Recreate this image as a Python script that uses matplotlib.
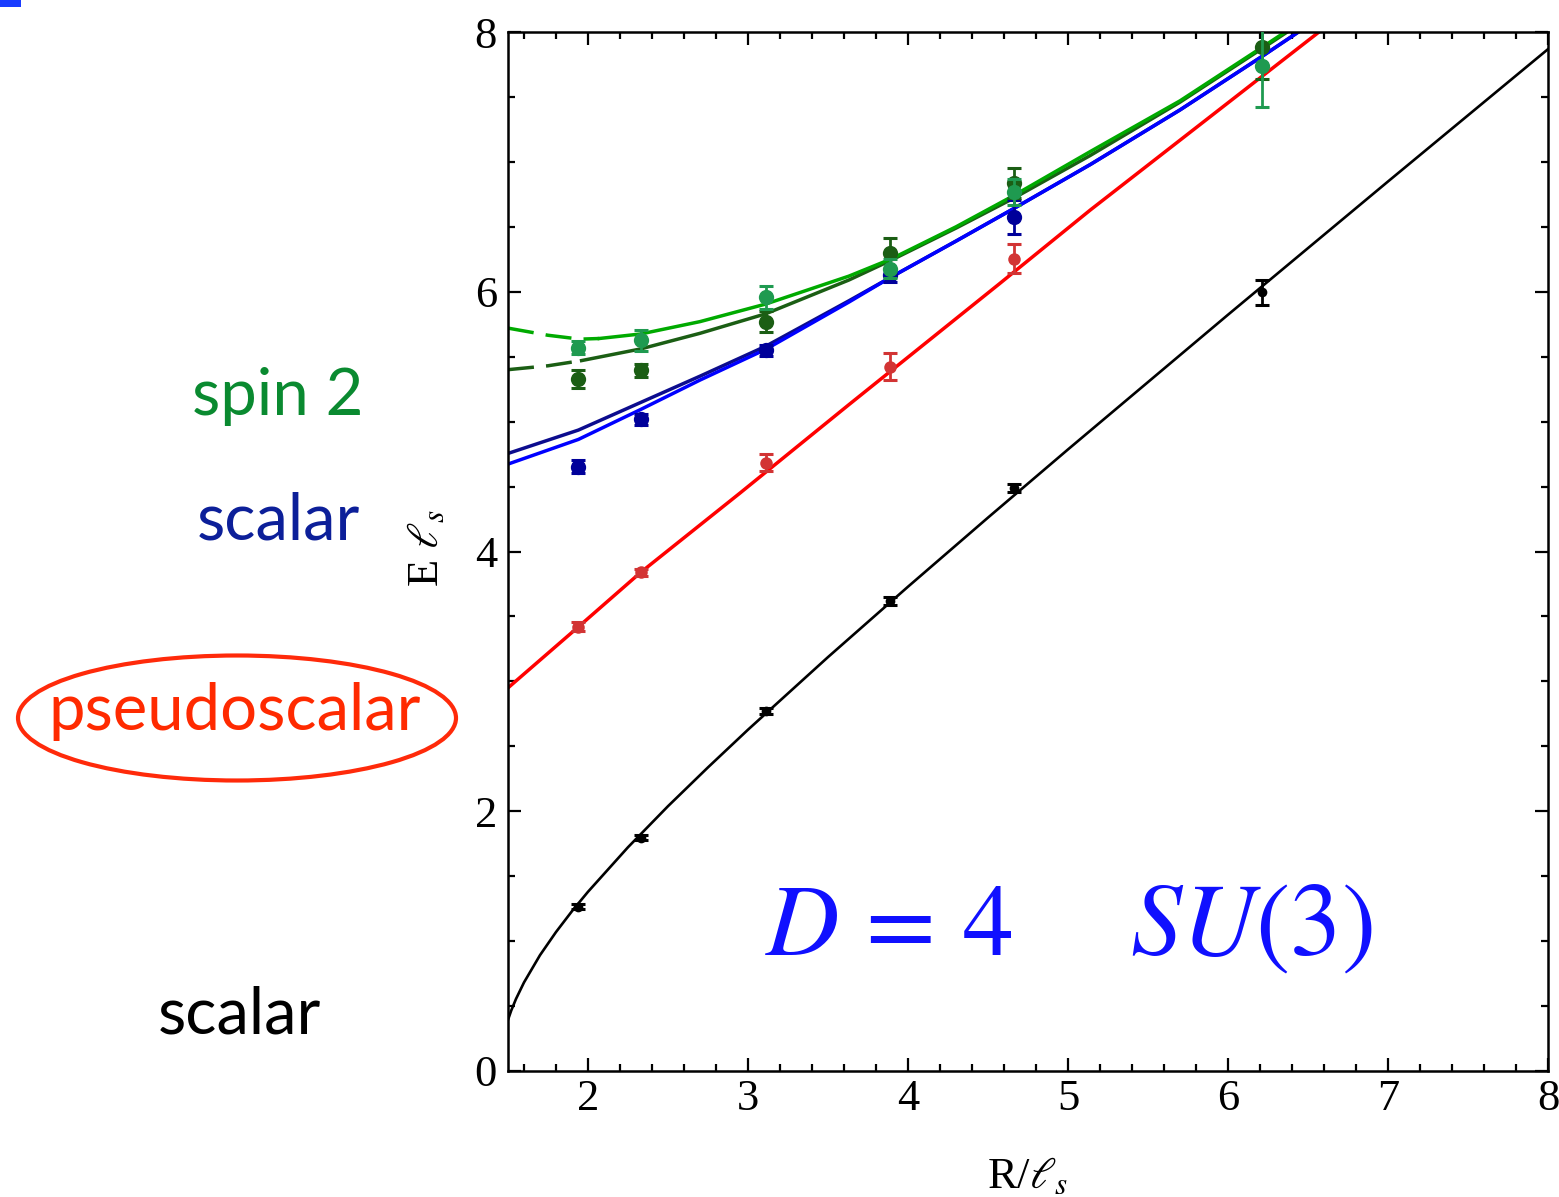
import matplotlib
matplotlib.use("Agg")
import matplotlib.pyplot as plt
from matplotlib.patches import Ellipse, Rectangle
from matplotlib.ticker import MultipleLocator

plt.rcParams['font.family'] = ['Liberation Serif', 'DejaVu Serif']
plt.rcParams['mathtext.fontset'] = 'stix'

# ---------------- data ----------------
R_vals = [1.94, 2.33, 3.11, 3.89, 4.66, 6.21]

black_E = [1.265, 1.796, 2.771, 3.618, 4.49, 5.995]
black_err = [0.02, 0.02, 0.025, 0.03, 0.03, 0.095]

red_R = [1.94, 2.33, 3.11, 3.89, 4.66]
red_E = [3.42, 3.839, 4.685, 5.422, 6.256]
red_err = [0.035, 0.03, 0.065, 0.105, 0.11]

blue_R = [1.94, 2.33, 3.11, 3.89, 4.66]
blue_E = [4.652, 5.017, 5.548, 6.128, 6.577]
blue_err = [0.05, 0.045, 0.04, 0.05, 0.13]

dkgreen_E = [5.327, 5.396, 5.768, 6.295, 6.834, 7.886]
dkgreen_err = [0.07, 0.05, 0.08, 0.12, 0.115, 0.245]

green_E = [5.568, 5.627, 5.958, 6.179, 6.77, 7.74]
green_err = [0.05, 0.08, 0.09, 0.07, 0.10, 0.32]

# theory curves
black_curve_R = [1.5, 1.52, 1.55, 1.6, 1.7, 1.8, 1.9, 2.0, 2.25, 2.5, 2.75, 3.0,
                 3.5, 4.0, 4.5, 5.0, 6.0, 7.0, 8.0]
black_curve_E = [0.394, 0.465, 0.555, 0.682, 0.892, 1.070, 1.231, 1.380, 1.723,
                 2.039, 2.338, 2.628, 3.187, 3.729, 4.261, 4.786, 5.823, 6.849, 7.868]

red_curve_R = [1.5, 1.94, 2.33, 2.95, 3.63, 4.57, 5.14, 6.6]
red_curve_E = [2.95, 3.42, 3.84, 4.45, 5.13, 6.06, 6.63, 8.03]

dkblue_curve_R = [1.5, 1.94, 2.33, 2.7, 3.11, 3.63, 3.89, 4.3, 4.66, 5.14, 5.7, 6.21, 6.44]
dkblue_curve_E = [4.755, 4.935, 5.148, 5.35, 5.58, 5.93, 6.11, 6.39, 6.64, 6.98, 7.40, 7.81, 8.0]

blue_curve_R = [1.5, 1.94, 2.33, 2.7, 3.11, 3.63, 3.89, 4.3, 4.66, 5.14, 5.7, 6.21, 6.44]
blue_curve_E = [4.673, 4.863, 5.094, 5.32, 5.556, 5.92, 6.11, 6.39, 6.64, 6.98, 7.40, 7.81, 8.0]

dkgreen_curve_R = [1.5, 1.75, 1.96, 2.33, 2.7, 3.11, 3.63, 3.89, 4.3, 4.66, 5.14, 5.7, 6.21, 6.37]
dkgreen_curve_E = [5.40, 5.43, 5.47, 5.56, 5.68, 5.83, 6.09, 6.24, 6.49, 6.72, 7.05, 7.46, 7.87, 8.0]
dkgreen_dash_end = 2   # index where dashed part ends

green_curve_R = [1.5, 1.75, 1.95, 2.07, 2.33, 2.7, 3.11, 3.63, 3.89, 4.3, 4.66, 5.14, 5.7, 6.21, 6.37]
green_curve_E = [5.72, 5.665, 5.635, 5.64, 5.675, 5.77, 5.905, 6.12, 6.25, 6.50, 6.74, 7.08, 7.47, 7.88, 8.01]
green_dash_end = 3

x_major = [2, 3, 4, 5, 6, 7, 8]
y_major = [0, 2, 4, 6, 8]

# ---------------- figure ----------------
W, H = 1559, 1197
fig = plt.figure(figsize=(W / 100, H / 100), dpi=100)
ax = fig.add_axes([508 / W, 1 - 1071 / H, 1040 / W, 1039 / H])
ax.set_xlim(1.5, 8)
ax.set_ylim(0, 8)

lw = 2.5
ax.plot(black_curve_R, black_curve_E, color='black', lw=1.9, zorder=2)
ax.plot(red_curve_R, red_curve_E, color='#ff0000', lw=lw, zorder=2)
ax.plot(dkblue_curve_R, dkblue_curve_E, color='#0c0c8e', lw=lw, zorder=2)
ax.plot(blue_curve_R, blue_curve_E, color='#0000ff', lw=lw, zorder=2)

dash = (0, (7.5, 3.5))
d = dkgreen_dash_end
ax.plot(dkgreen_curve_R[:d + 1], dkgreen_curve_E[:d + 1], color='#1b5e14', lw=lw,
        linestyle=dash, zorder=2)
ax.plot(dkgreen_curve_R[d:], dkgreen_curve_E[d:], color='#1b5e14', lw=lw, zorder=2)
g = green_dash_end
ax.plot(green_curve_R[:g + 1], green_curve_E[:g + 1], color='#00aa00', lw=lw,
        linestyle=dash, zorder=2)
ax.plot(green_curve_R[g:], green_curve_E[g:], color='#00aa00', lw=lw, zorder=2)


def points(xs, ys, errs, color, ms, z):
    ax.errorbar(xs, ys, yerr=errs, fmt='none', ecolor=color, capsize=4.8,
                elinewidth=2.0, capthick=2.2, zorder=z)
    ax.plot(xs, ys, 'o', color=color, ms=ms, mew=0, zorder=z + 0.5)


points(R_vals, black_E, black_err, 'black', 7, 4)
points(red_R, red_E, red_err, '#d23434', 9, 5)
points(blue_R, blue_E, blue_err, '#00009a', 11, 6)
points(R_vals, dkgreen_E, dkgreen_err, '#1b5e14', 11, 7)
points(R_vals, green_E, green_err, '#1f9a50', 11, 8)

# axes styling
for s in ax.spines.values():
    s.set_linewidth(1.8)
ax.xaxis.set_minor_locator(MultipleLocator(0.2))
ax.yaxis.set_minor_locator(MultipleLocator(0.5))
ax.set_xticks(x_major)
ax.set_yticks(y_major)
ax.tick_params(which='both', direction='in', top=True, right=True, width=1.6)
ax.tick_params(which='major', length=9.5)
ax.tick_params(which='minor', length=5)
ax.tick_params(axis='x', labelsize=32, pad=6)
ax.tick_params(axis='y', labelsize=32, pad=8)

fig.text(1028 / W, 1 - 1188 / H, r'R/$\ell_s$', fontsize=32, ha='center', va='baseline')
fig.text(427 / W, 1 - 548 / H, r'E $\ell_s$', fontsize=32, ha='center', va='center',
         rotation=90)

ax.text((765 - 508) / 1040, (1071 - 955) / 1039, r'$D\,=\,4$', transform=ax.transAxes,
        fontsize=73, color='#1010ff', ha='left', va='baseline')
ax.text((1130 - 508) / 1040, (1071 - 955) / 1039, r'$SU(3)$', transform=ax.transAxes,
        fontsize=74, color='#1010ff', ha='left', va='baseline')

# left-hand labels
lab = dict(family=['Lato', 'DejaVu Sans'], fontsize=47, ha='center', va='baseline')
fig.text(278 / W, 1 - 415 / H, 'spin 2', color='#0a8a30', **lab)
fig.text(278 / W, 1 - 540 / H, 'scalar', color='#0c1f99', **lab)
fig.text(235 / W, 1 - 730 / H, 'pseudoscalar', color='#ff2a00', **lab)
fig.text(239 / W, 1 - 1033 / H, 'scalar', color='black', **lab)

fig.add_artist(Ellipse((237 / W, 1 - 718 / H), 438 / W, 125 / H, transform=fig.transFigure,
                       fill=False, edgecolor='#ff2a0a', lw=3.0))
fig.add_artist(Rectangle((0, 1 - 7 / H), 21 / W, 7 / H, transform=fig.transFigure,
                         color='#1a3cff', lw=0))

fig.savefig('out.png', dpi=100)
